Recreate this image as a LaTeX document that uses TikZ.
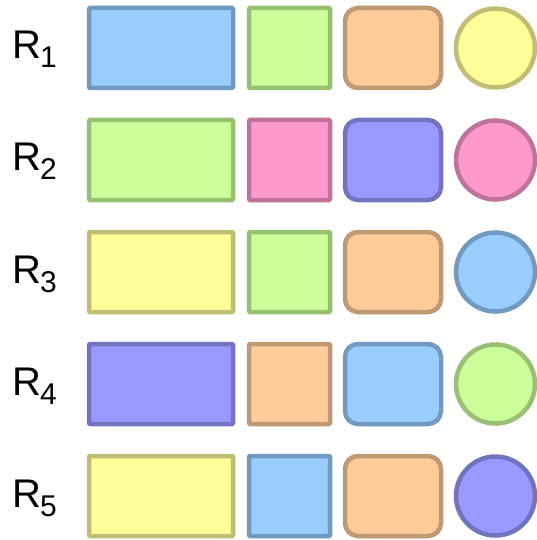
\documentclass[tikz,border=0pt]{standalone}
\usepackage{fontspec}
\setmainfont{Liberation Sans}
\definecolor{bfill}{HTML}{99CCFF}\definecolor{bline}{HTML}{7399BF}
\definecolor{gfill}{HTML}{CCFF99}\definecolor{gline}{HTML}{99BF73}
\definecolor{ofill}{HTML}{FFCC99}\definecolor{oline}{HTML}{BF9973}
\definecolor{yfill}{HTML}{FFFF99}\definecolor{yline}{HTML}{BFBF73}
\definecolor{pfill}{HTML}{FF99CC}\definecolor{pline}{HTML}{BF7399}
\definecolor{vfill}{HTML}{9999FF}\definecolor{vline}{HTML}{7373BF}
\tikzset{
  shp/.style={draw=#1line, fill=#1fill, line width=4.5pt, inner sep=0pt, outer sep=0pt},
  wide/.style={shp=#1, rectangle, rounded corners=1pt, minimum width=144pt, minimum height=80pt},
  sq/.style={shp=#1, rectangle, rounded corners=1pt, minimum width=81pt, minimum height=80pt},
  rr/.style={shp=#1, rectangle, rounded corners=13pt, minimum width=96pt, minimum height=80pt},
  circ/.style={shp=#1, circle, minimum size=79pt},
  lbl/.style={anchor=base west, inner sep=0pt, font=\fontsize{40}{40}\selectfont},
}
\newcommand{\rowlabel}[1]{R\hspace{-1pt}\raisebox{-9pt}{\fontsize{30}{30}\selectfont #1}}
\begin{document}
\begin{tikzpicture}[x=1pt,y=-1pt]
\useasboundingbox (0,0) rectangle (537,540);
\foreach \i/\a/\b/\c/\d in {1/b/g/o/y, 2/g/p/v/p, 3/y/g/o/b, 4/v/o/b/g, 5/y/b/o/v}{
  \pgfmathsetmacro{\cy}{48+112*(\i-1)}
  \node[lbl] (l\i) at (12,\cy+11) {\rowlabel{\i}};
  \node[wide=\a] (a\i) at (161,\cy) {};
  \node[sq=\b] (b\i) at (289.5,\cy) {};
  \node[rr=\c] (c\i) at (393,\cy) {};
  \node[circ=\d] (d\i) at (495.5,\cy) {};
}
\end{tikzpicture}
\end{document}
